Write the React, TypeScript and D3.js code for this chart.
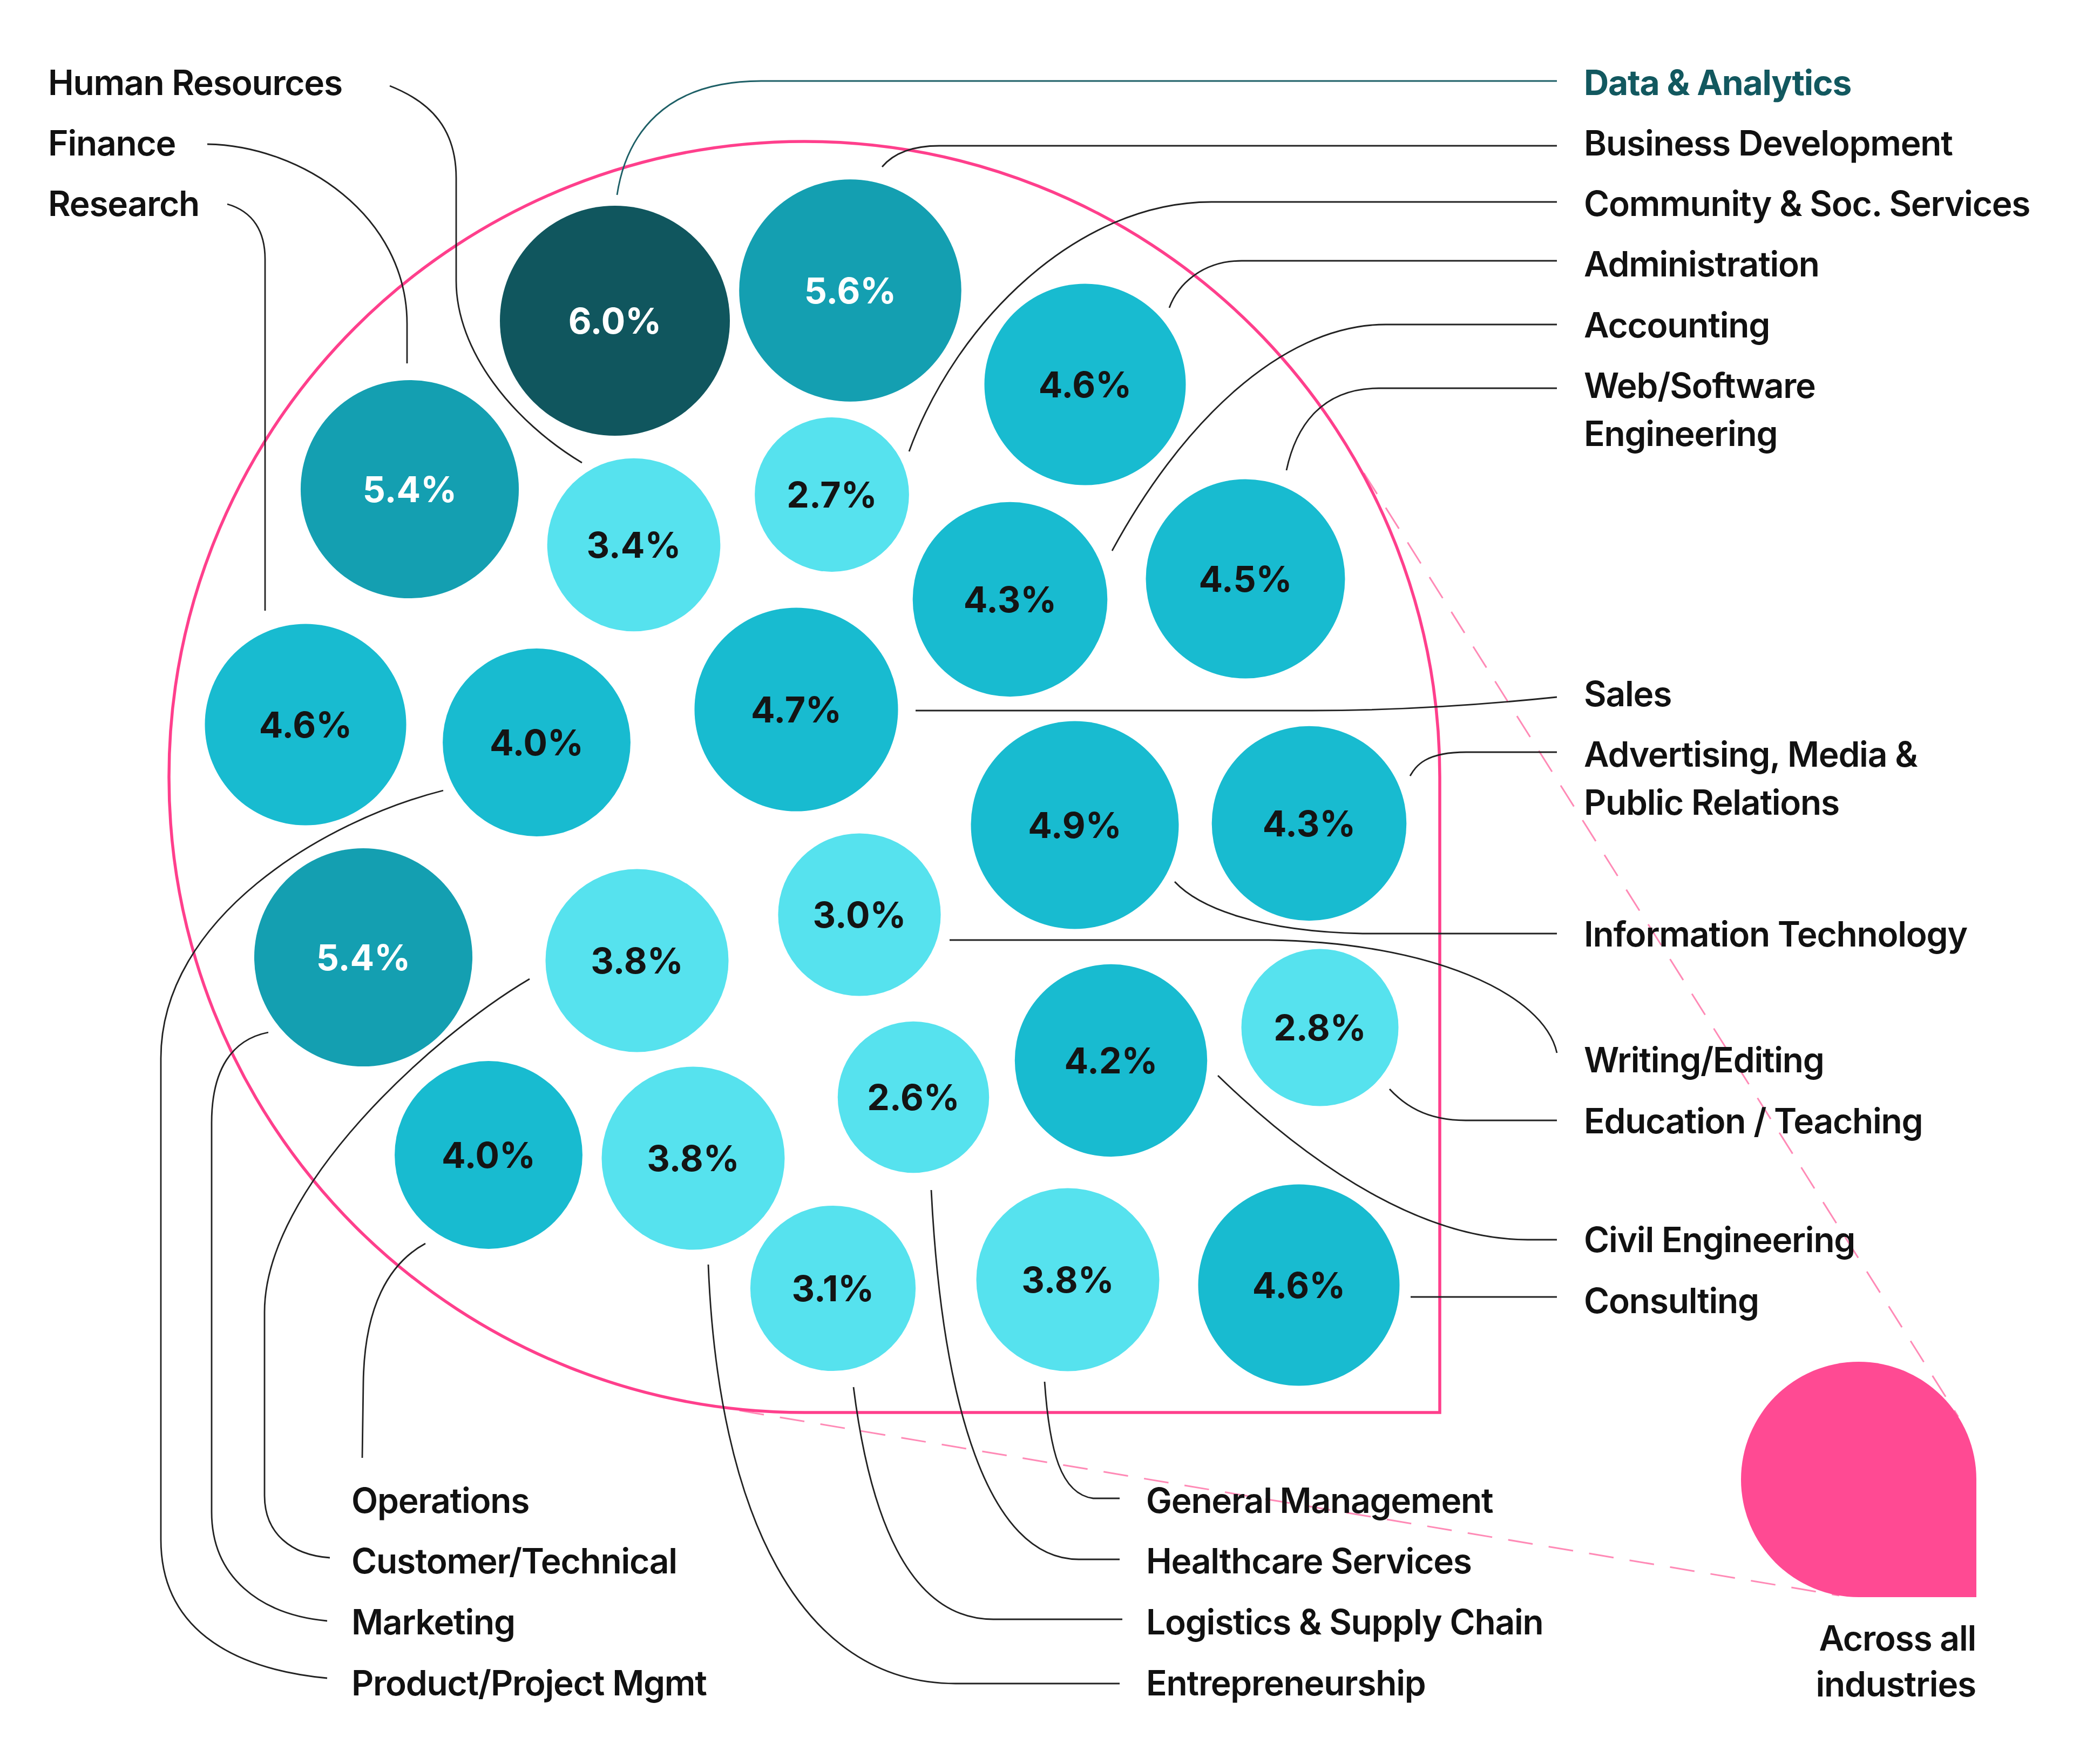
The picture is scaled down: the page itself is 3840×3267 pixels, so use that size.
import React from 'react';
import * as d3 from 'd3';

// ---------- DATA ----------
const categories = [
  'Data & Analytics', 'Business Development', 'Administration', 'Finance', 'Human Resources',
  'Community & Soc. Services', 'Accounting', 'Web/Software Engineering', 'Research',
  'Product/Project Mgmt', 'Sales', 'Information Technology', 'Advertising, Media & Public Relations',
  'Marketing', 'Customer/Technical', 'Writing/Editing', 'Civil Engineering', 'Education / Teaching',
  'Healthcare Services', 'Operations', 'Entrepreneurship', 'Logistics & Supply Chain',
  'General Management', 'Consulting',
];
const values = [
  6.0, 5.6, 4.6, 5.4, 3.4,
  2.7, 4.3, 4.5, 4.6,
  4.0, 4.7, 4.9, 4.3,
  5.4, 3.8, 3.0, 4.2, 2.8,
  2.6, 4.0, 3.8, 3.1,
  3.8, 4.6,
];
const overallLabel = ['Across all', 'industries'];

// ---------- LAYOUT (hand-placed bubble packing) ----------
const bubbleCenters: [number, number][] = [
  [1139, 594], [1575, 538], [2010, 712], [759, 906], [1174, 1009],
  [1541, 916], [1871, 1110], [2307, 1072], [566, 1342],
  [994, 1375], [1475, 1314], [1991, 1528], [2425, 1525],
  [673, 1773], [1180, 1779], [1592, 1694], [2058, 1964], [2445, 1903],
  [1692, 2032], [905, 2139], [1284, 2145], [1543, 2386],
  [1978, 2370], [2406, 2380],
];

// label text lines + anchor position
const labelLayout: { cat: string; lines: string[]; x: number; y: number; color?: string; bold?: boolean }[] = [
  { cat: 'Human Resources', lines: ['Human Resources'], x: 89, y: 176 },
  { cat: 'Finance', lines: ['Finance'], x: 89, y: 288 },
  { cat: 'Research', lines: ['Research'], x: 89, y: 400 },
  { cat: 'Data & Analytics', lines: ['Data & Analytics'], x: 2934, y: 176, color: '#12585f', bold: true },
  { cat: 'Business Development', lines: ['Business Development'], x: 2934, y: 288 },
  { cat: 'Community & Soc. Services', lines: ['Community & Soc. Services'], x: 2934, y: 400 },
  { cat: 'Administration', lines: ['Administration'], x: 2934, y: 512 },
  { cat: 'Accounting', lines: ['Accounting'], x: 2934, y: 625 },
  { cat: 'Web/Software Engineering', lines: ['Web/Software', 'Engineering'], x: 2934, y: 737 },
  { cat: 'Sales', lines: ['Sales'], x: 2934, y: 1308 },
  { cat: 'Advertising, Media & Public Relations', lines: ['Advertising, Media &', 'Public Relations'], x: 2934, y: 1420 },
  { cat: 'Information Technology', lines: ['Information Technology'], x: 2934, y: 1753 },
  { cat: 'Writing/Editing', lines: ['Writing/Editing'], x: 2934, y: 1986 },
  { cat: 'Education / Teaching', lines: ['Education / Teaching'], x: 2934, y: 2099 },
  { cat: 'Civil Engineering', lines: ['Civil Engineering'], x: 2934, y: 2319 },
  { cat: 'Consulting', lines: ['Consulting'], x: 2934, y: 2432 },
  { cat: 'Operations', lines: ['Operations'], x: 651, y: 2802 },
  { cat: 'Customer/Technical', lines: ['Customer/Technical'], x: 651, y: 2914 },
  { cat: 'Marketing', lines: ['Marketing'], x: 651, y: 3027 },
  { cat: 'Product/Project Mgmt', lines: ['Product/Project Mgmt'], x: 651, y: 3140 },
  { cat: 'General Management', lines: ['General Management'], x: 2123, y: 2802 },
  { cat: 'Healthcare Services', lines: ['Healthcare Services'], x: 2123, y: 2914 },
  { cat: 'Logistics & Supply Chain', lines: ['Logistics & Supply Chain'], x: 2123, y: 3027 },
  { cat: 'Entrepreneurship', lines: ['Entrepreneurship'], x: 2123, y: 3140 },
];

// leader lines (annotation routing)
const leaders: Record<string, string> = {
  'Human Resources': 'M722,159 C800,190 845,240 845,330 V520 C845,650 950,780 1078,857',
  'Finance': 'M384,267 C560,270 754,400 754,600 V673',
  'Research': 'M421,378 C470,392 491,430 491,480 V1131',
  'Data & Analytics': 'M2884,150 H1410 C1230,150 1160,250 1143,361',
  'Business Development': 'M2884,270 H1740 C1680,270 1650,290 1634,309',
  'Community & Soc. Services': 'M2884,374 H2244 C1995,374 1771,597 1684,836',
  'Administration': 'M2884,483 H2300 C2225,483 2181,529 2166,570',
  'Accounting': 'M2884,601 H2567 C2368,601 2181,796 2060,1020',
  'Web/Software Engineering': 'M2884,719 H2554 C2443,719 2399,796 2383,871',
  'Sales': 'M2884,1291 C2700,1310 2550,1316 2430,1316 H1696',
  'Advertising, Media & Public Relations': 'M2884,1393 H2716 C2641,1393 2623,1418 2612,1437',
  'Information Technology': 'M2884,1729 H2524 C2330,1725 2220,1680 2176,1633',
  'Writing/Editing': 'M1759,1741 H2350 C2650,1745 2860,1840 2884,1950',
  'Education / Teaching': 'M2884,2075 H2715 C2640,2075 2600,2045 2574,2017',
  'Civil Engineering': 'M2884,2296 H2830 C2650,2296 2450,2180 2256,1992',
  'Consulting': 'M2884,2402 H2613',
  'Operations': 'M671,2700 L673,2560 C675,2420 720,2340 788,2303',
  'Customer/Technical': 'M611,2885 C540,2880 490,2840 490,2770 V2430 C490,2200 800,1920 981,1813',
  'Marketing': 'M606,3002 C480,2990 392,2920 392,2800 V2080 C392,1980 430,1925 497,1912',
  'Product/Project Mgmt': 'M606,3108 C420,3090 298,3010 298,2851 V1960 C298,1700 600,1520 821,1464',
  'General Management': 'M2074,2775 H2025 C1965,2767 1944,2688 1935,2559',
  'Healthcare Services': 'M2074,2888 H1998 C1830,2888 1745,2600 1725,2204',
  'Logistics & Supply Chain': 'M2079,2999 H1840 C1680,2999 1610,2800 1581,2569',
  'Entrepreneurship': 'M2074,3118 H1770 C1480,3118 1330,2800 1312,2342',
};

const W = 3840;
const H = 3267;
const BIG = { cx: 1490, cy: 1439, r: 1177 };
const SMALL = { cx: 3443, cy: 2740, r: 218 };

const FONT = 'Inter, "Noto Sans", sans-serif';
const PINK = '#ff3f8c';
const PINK_FILL = '#ff4a93';

function dropShape(cx: number, cy: number, r: number) {
  const p = d3.path();
  p.moveTo(cx, cy + r);
  p.arc(cx, cy, r, Math.PI / 2, Math.PI * 2, false);
  p.lineTo(cx + r, cy + r);
  p.closePath();
  return p.toString();
}

function externalTangents() {
  const dx = SMALL.cx - BIG.cx;
  const dy = SMALL.cy - BIG.cy;
  const D = Math.hypot(dx, dy);
  const base = Math.atan2(dy, dx);
  const alpha = Math.acos((BIG.r - SMALL.r) / D);
  return [base - alpha, base + alpha].map((a) => ({
    x1: BIG.cx + BIG.r * Math.cos(a),
    y1: BIG.cy + BIG.r * Math.sin(a),
    x2: SMALL.cx + SMALL.r * Math.cos(a),
    y2: SMALL.cy + SMALL.r * Math.sin(a),
  }));
}

export default function App() {
  const rScale = d3.scaleSqrt().domain([0, 6]).range([0, 213]);
  const color = d3
    .scaleThreshold<number, string>()
    .domain([4, 5, 5.8])
    .range(['#56e2ee', '#18bbd0', '#149fb1', '#10565e']);
  const textColor = (v: number) => (v >= 5 ? '#ffffff' : '#141414');
  const bubbles = categories.map((c, i) => ({
    cat: c,
    value: values[i],
    x: bubbleCenters[i][0],
    y: bubbleCenters[i][1],
    r: rScale(values[i]),
  }));
  const tangents = externalTangents();

  return (
    <svg
      width={W}
      height={H}
      viewBox={`0 0 ${W} ${H}`}
      style={{ position: 'absolute', left: 0, top: 0, background: '#ffffff' }}
    >
      <rect x={0} y={0} width={W} height={H} fill="#ffffff" />
      {tangents.map((t, i) => (
        <line
          key={i}
          x1={t.x1}
          y1={t.y1}
          x2={t.x2}
          y2={t.y2}
          stroke="#ff8ab6"
          strokeWidth={3}
          strokeDasharray="46 30"
        />
      ))}
      <path d={dropShape(BIG.cx, BIG.cy, BIG.r)} fill="none" stroke={PINK} strokeWidth={5.5} />
      <path d={dropShape(SMALL.cx, SMALL.cy, SMALL.r)} fill={PINK_FILL} />

      {labelLayout.map((l) => (
        <path
          key={'lead-' + l.cat}
          d={leaders[l.cat]}
          fill="none"
          stroke={l.color ? '#1d5f66' : '#222222'}
          strokeWidth={2.8}
        />
      ))}

      {bubbles.map((b) => (
        <g key={b.cat}>
          <circle cx={b.x} cy={b.y} r={b.r} fill={color(b.value)} />
          <text
            x={b.x}
            y={b.y}
            dy="0.36em"
            textAnchor="middle"
            fontFamily={FONT}
            fontWeight={700}
            fontSize={66}
            fill={textColor(b.value)}
          >
            {d3.format('.1f')(b.value) + '%'}
          </text>
        </g>
      ))}

      {labelLayout.map((l) => (
        <text
          key={'lab-' + l.cat}
          x={l.x}
          y={l.y}
          fontFamily={FONT}
          fontWeight={l.bold ? 700 : 600}
          fontSize={64}
          letterSpacing={-1.2}
          fill={l.color || '#111111'}
        >
          {l.lines.map((ln, j) => (
            <tspan key={j} x={l.x} y={l.y + j * 89}>
              {ln}
            </tspan>
          ))}
        </text>
      ))}

      <text fontFamily={FONT} fontWeight={600} fontSize={64} letterSpacing={-1.2} fill="#111111" textAnchor="end">
        {overallLabel.map((ln, j) => (
          <tspan key={j} x={3660} y={3057 + j * 85}>
            {ln}
          </tspan>
        ))}
      </text>
    </svg>
  );
}
